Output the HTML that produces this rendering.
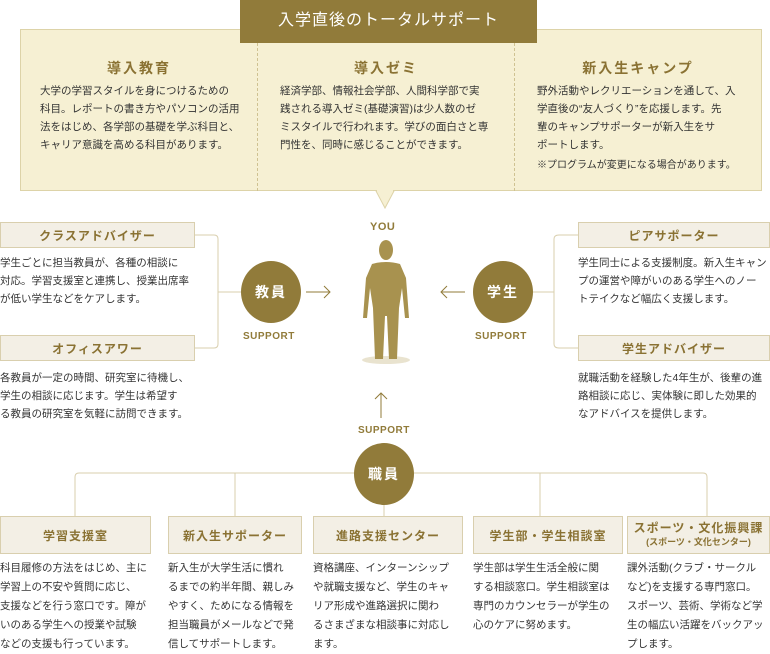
<!DOCTYPE html>
<html><head><meta charset="utf-8"><style>
*{margin:0;padding:0;box-sizing:border-box}
body{width:770px;height:645px;position:relative;background:#fff;font-family:"Liberation Sans","Noto Sans CJK JP",sans-serif;color:#333;overflow:hidden}
.a{position:absolute}
.t{font-size:10.5px;line-height:18px;color:#333;white-space:nowrap}
.h{font-size:14px;font-weight:bold;color:#8a7233;text-align:center;letter-spacing:2px}
.box{position:absolute;background:#f3efe5;border:1px solid #d9cfae;color:#8a7233;font-weight:bold;font-size:12px;text-align:center;display:flex;align-items:center;justify-content:center;flex-direction:column;letter-spacing:1px}
.c{position:absolute;background:#917b3a;border-radius:50%;color:#fff;font-weight:bold;font-size:14px;display:flex;align-items:center;justify-content:center;letter-spacing:2px}
.s{position:absolute;font-size:10px;font-weight:bold;color:#917b3a;letter-spacing:.5px}
</style></head><body>
<div class="a" style="left:20px;top:29px;width:742px;height:162px;background:#f6f0d3;border:1px solid #ddd3a8"></div>
<div class="a" style="left:257px;top:43px;height:148px;border-left:1px dashed #cfc291"></div>
<div class="a" style="left:514px;top:43px;height:148px;border-left:1px dashed #cfc291"></div>
<svg class="a" style="left:375px;top:190px" width="20" height="20"><polygon points="1,1 19,1 10,18" fill="#f6f0d3" stroke="#ddd3a8"/><line x1="2" y1="1" x2="18" y2="1" stroke="#f6f0d3" stroke-width="2"/></svg>
<div class="a" style="left:240px;top:0;width:297px;height:43px;background:#917b3a;color:#fff;font-size:16px;text-align:center;line-height:42px;letter-spacing:1px">入学直後のトータルサポート</div>
<div class="a h" style="left:20px;top:58px;width:238px">導入教育</div>
<div class="a h" style="left:258px;top:58px;width:256px">導入ゼミ</div>
<div class="a h" style="left:514px;top:58px;width:248px">新入生キャンプ</div>
<div class="a t" style="left:40px;top:82px">大学の学習スタイルを身につけるための<br>科目。レポートの書き方やパソコンの活用<br>法をはじめ、各学部の基礎を学ぶ科目と、<br>キャリア意識を高める科目があります。</div>
<div class="a t" style="left:280px;top:82px">経済学部、情報社会学部、人間科学部で実<br>践される導入ゼミ(基礎演習)は少人数のゼ<br>ミスタイルで行われます。学びの面白さと専<br>門性を、同時に感じることができます。</div>
<div class="a t" style="left:537px;top:82px">野外活動やレクリエーションを通して、入<br>学直後の“友人づくり”を応援します。先<br>輩のキャンプサポーターが新入生をサ<br>ポートします。</div>
<div class="a t" style="left:537px;top:157px;font-size:10px">※プログラムが変更になる場合があります。</div>

<div class="s" style="left:370px;top:221px;font-size:11px">YOU</div>
<svg class="a" style="left:360px;top:238px" width="52" height="128">
<ellipse cx="26" cy="122" rx="24" ry="4" fill="#e9e3cf"/>
<ellipse cx="26" cy="12" rx="7" ry="10" fill="#a8924f"/>
<path d="M12 26 Q26 22 40 26 L46 40 L49 80 L45 80 L42 50 L39 70 L37 121 L29 121 L27 78 L25 78 L23 121 L15 121 L13 70 L10 50 L7 80 L3 80 L6 40 Z" fill="#a8924f"/>
</svg>

<div class="box" style="left:0;top:222px;width:195px;height:26px">クラスアドバイザー</div>
<div class="box" style="left:0;top:335px;width:195px;height:26px">オフィスアワー</div>
<div class="a t" style="left:0;top:254px">学生ごとに担当教員が、各種の相談に<br>対応。学習支援室と連携し、授業出席率<br>が低い学生などをケアします。</div>
<div class="a t" style="left:0;top:369px">各教員が一定の時間、研究室に待機し、<br>学生の相談に応じます。学生は希望す<br>る教員の研究室を気軽に訪問できます。</div>
<svg class="a" style="left:0;top:0" width="770" height="645">
<g fill="none" stroke="#d9cfae" stroke-width="1">
<path d="M195 235 H214 Q218 235 218 239 V344 Q218 348 214 348 H195"/>
<path d="M218 292 H241"/>
<path d="M578 235 H559 Q554 235 554 239 V344 Q554 348 559 348 H578"/>
<path d="M554 292 H533"/>
<path d="M75 516 V477 Q75 473 79 473 H703 Q707 473 707 477 V516"/>
<path d="M235 473 V516 M540 473 V516 M384 500 V516"/>
</g>
<g fill="none" stroke="#917b3a" stroke-width="1">
<path d="M306 292 H330 M324 286 L330 292 L324 298"/>
<path d="M465 292 H441 M447 286 L441 292 L447 298"/>
<path d="M381 418 V393 M375 399 L381 393 L387 399"/>
</g>
</svg>
<div class="c" style="left:241px;top:261px;width:60px;height:62px">教員</div>
<div class="s" style="left:243px;top:331px">SUPPORT</div>
<div class="c" style="left:473px;top:261px;width:60px;height:62px">学生</div>
<div class="s" style="left:475px;top:331px">SUPPORT</div>

<div class="box" style="left:578px;top:222px;width:192px;height:26px">ピアサポーター</div>
<div class="box" style="left:578px;top:335px;width:192px;height:26px">学生アドバイザー</div>
<div class="a t" style="left:578px;top:254px">学生同士による支援制度。新入生キャン<br>プの運営や障がいのある学生へのノー<br>トテイクなど幅広く支援します。</div>
<div class="a t" style="left:578px;top:369px">就職活動を経験した4年生が、後輩の進<br>路相談に応じ、実体験に即した効果的<br>なアドバイスを提供します。</div>

<div class="s" style="left:358px;top:425px">SUPPORT</div>
<div class="c" style="left:354px;top:443px;width:60px;height:62px">職員</div>

<div class="box" style="left:0;top:516px;width:151px;height:38px">学習支援室</div>
<div class="box" style="left:168px;top:516px;width:134px;height:38px">新入生サポーター</div>
<div class="box" style="left:313px;top:516px;width:150px;height:38px">進路支援センター</div>
<div class="box" style="left:473px;top:516px;width:150px;height:38px">学生部・学生相談室</div>
<div class="box" style="left:627px;top:516px;width:143px;height:38px;line-height:14px">スポーツ・文化振興課<span style="font-size:9px;letter-spacing:0">(スポーツ・文化センター)</span></div>
<div class="a t" style="left:0;top:559px;line-height:19px">科目履修の方法をはじめ、主に<br>学習上の不安や質問に応じ、<br>支援などを行う窓口です。障が<br>いのある学生への授業や試験<br>などの支援も行っています。</div>
<div class="a t" style="left:168px;top:559px;line-height:19px">新入生が大学生活に慣れ<br>るまでの約半年間、親しみ<br>やすく、ためになる情報を<br>担当職員がメールなどで発<br>信してサポートします。</div>
<div class="a t" style="left:313px;top:559px;line-height:19px">資格講座、インターンシップ<br>や就職支援など、学生のキャ<br>リア形成や進路選択に関わ<br>るさまざまな相談事に対応し<br>ます。</div>
<div class="a t" style="left:473px;top:559px;line-height:19px">学生部は学生生活全般に関<br>する相談窓口。学生相談室は<br>専門のカウンセラーが学生の<br>心のケアに努めます。</div>
<div class="a t" style="left:627px;top:559px;line-height:19px">課外活動(クラブ・サークル<br>など)を支援する専門窓口。<br>スポーツ、芸術、学術など学<br>生の幅広い活躍をバックアッ<br>プします。</div>
</body></html>
